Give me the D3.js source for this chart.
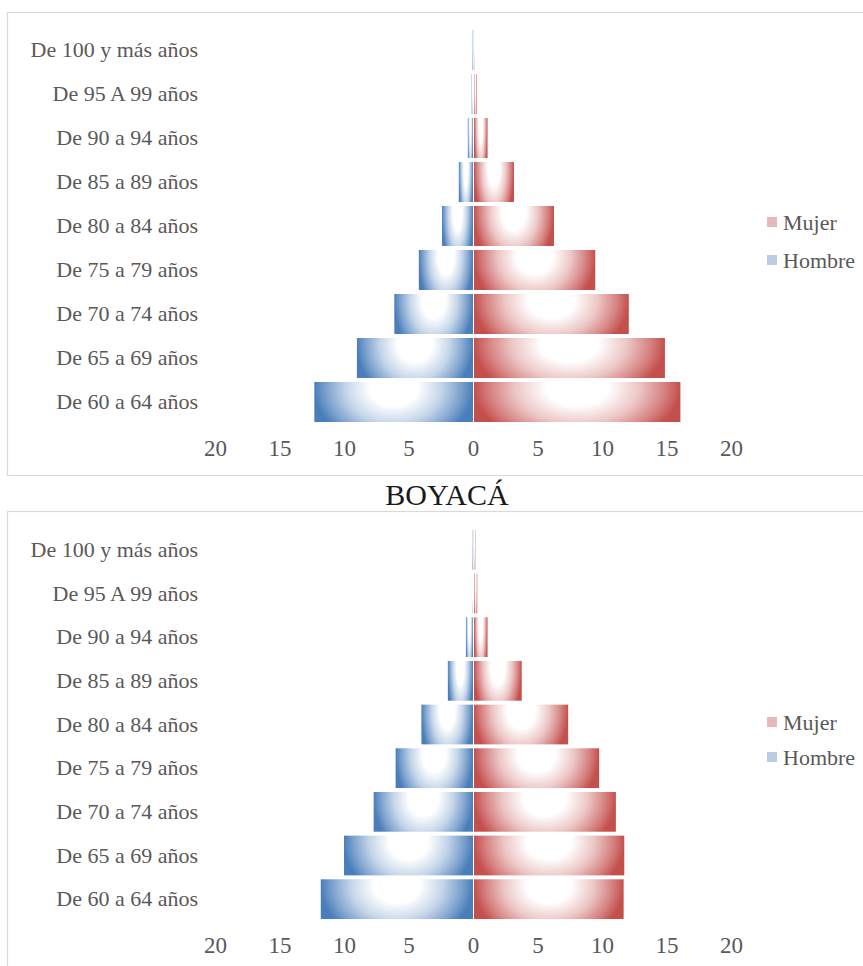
<!DOCTYPE html>
<html>
<head>
<meta charset="utf-8">
<script src="https://cdn.jsdelivr.net/npm/d3@7"></script>
<style>
  html, body { margin: 0; padding: 0; background: #fff; }
  svg { display: block; }
  svg text { font-family: "Liberation Serif", "Times New Roman", Times, "DejaVu Serif", "Noto Serif", serif !important; }
</style>
</head>
<body>
<svg id="chart" width="863" height="966"></svg>
<script>
// ---- data (listed bottom-to-top, as in the source spreadsheet) ----
const categories = [
  "De 60 a 64 años", "De 65 a 69 años", "De 70 a 74 años", "De 75 a 79 años",
  "De 80 a 84 años", "De 85 a 89 años", "De 90 a 94 años", "De 95 A 99 años",
  "De 100 y más años"
];
const hombreTop = [12.3, 9.0, 6.1, 4.2, 2.4, 1.1, 0.4, 0.1, 0.05];
const mujerTop  = [16.0, 14.8, 12.0, 9.4, 6.2, 3.1, 1.05, 0.2, 0.05];
const hombreBoyaca = [11.8, 10.0, 7.7, 6.0, 4.0, 1.95, 0.55, 0.08, 0.05];
const mujerBoyaca  = [11.6, 11.65, 11.0, 9.7, 7.3, 3.7, 1.05, 0.25, 0.1];
const tickValues = [-20, -15, -10, -5, 0, 5, 10, 15, 20];
const seriesNames = ["Mujer", "Hombre"];
const title = "BOYACÁ";

const svg = d3.select("#chart");
const defs = svg.append("defs");

function makeGrad(id, color) {
  const g = defs.append("radialGradient")
    .attr("id", id)
    .attr("gradientUnits", "objectBoundingBox")
    .attr("cx", 0.5).attr("cy", 0.15).attr("r", 0.5)
    .attr("fx", 0.5).attr("fy", 0.15)
    .attr("gradientTransform", "translate(0.5,0.15) scale(1,3) translate(-0.5,-0.15)");
  const mix = d3.interpolateRgb("#ffffff", color);
  g.append("stop").attr("offset", "0%").attr("stop-color", "#ffffff");
  g.append("stop").attr("offset", "30%").attr("stop-color", "#ffffff");
  g.append("stop").attr("offset", "60%").attr("stop-color", mix(0.32));
  g.append("stop").attr("offset", "85%").attr("stop-color", mix(0.72));
  g.append("stop").attr("offset", "100%").attr("stop-color", color);
}
makeGrad("gBlue", "#4a7ebb");
makeGrad("gRed", "#c4504e");

const x = d3.scaleLinear().domain([-20, 20]).range([215, 731]);

function drawPanel(hombre, mujer, frameY, frameH, bandTop, bandBottom, legendY) {
  const g = svg.append("g");
  g.append("rect")
    .attr("x", 7.5).attr("y", frameY + 0.5)
    .attr("width", 900).attr("height", frameH)
    .attr("fill", "none").attr("stroke", "#d9d9d9").attr("stroke-width", 1.2);

  const y = d3.scaleBand()
    .domain(categories.slice().reverse())
    .range([bandTop, bandBottom])
    .paddingInner(0.09).paddingOuter(0.045);

  const rows = categories.map((c, i) => ({ c, h: hombre[i], m: mujer[i] }));

  g.selectAll(".hb").data(rows).join("rect")
    .attr("x", d => x(-d.h))
    .attr("y", d => y(d.c))
    .attr("width", d => Math.max(0.8, x(0) - x(-d.h)))
    .attr("height", y.bandwidth())
    .attr("fill", "url(#gBlue)");

  g.selectAll(".mb").data(rows).join("rect")
    .attr("x", x(0) + 1)
    .attr("y", d => y(d.c))
    .attr("width", d => Math.max(0.8, x(d.m) - x(0)))
    .attr("height", y.bandwidth())
    .attr("fill", "url(#gRed)");

  // category labels
  const yAxis = d3.axisLeft(y).tickSize(0).tickPadding(0);
  const ya = g.append("g").attr("transform", "translate(198,0)").call(yAxis);
  ya.attr("font-family", null);
  ya.select(".domain").remove();
  ya.selectAll("text")
    .attr("font-size", 22).attr("fill", "#595959")
    .attr("dy", "0.32em");

  // value axis
  const xAxis = d3.axisBottom(x).tickValues(tickValues)
    .tickFormat(d => Math.abs(d)).tickSize(0).tickPadding(0);
  const xa = g.append("g").attr("transform", `translate(0,${bandBottom + 24})`).call(xAxis);
  xa.attr("font-family", null);
  xa.select(".domain").remove();
  xa.selectAll("text")
    .attr("font-size", 23).attr("fill", "#595959")
    .attr("y", 0).attr("dy", "0.35em");

  // legend
  const legColors = ["#e6b9b8", "#b9cde5"];
  seriesNames.forEach((n, i) => {
    const ly = legendY[i];
    g.append("rect").attr("x", 767).attr("y", ly - 5).attr("width", 10).attr("height", 10)
      .attr("fill", legColors[i]);
    g.append("text").attr("x", 783).attr("y", ly).attr("dy", "0.35em")
      .attr("font-size", 22).attr("fill", "#595959")
      .text(n);
  });
}

drawPanel(hombreTop, mujerTop, 12, 463, 28, 424, [222, 260]);
drawPanel(hombreBoyaca, mujerBoyaca, 511, 500, 528, 921, [722, 757]);

svg.append("text")
  .attr("x", 447).attr("y", 505)
  .attr("text-anchor", "middle")
  .attr("font-size", 30).attr("fill", "#1a1a1a")
  .text(title);
</script>
</body>
</html>
